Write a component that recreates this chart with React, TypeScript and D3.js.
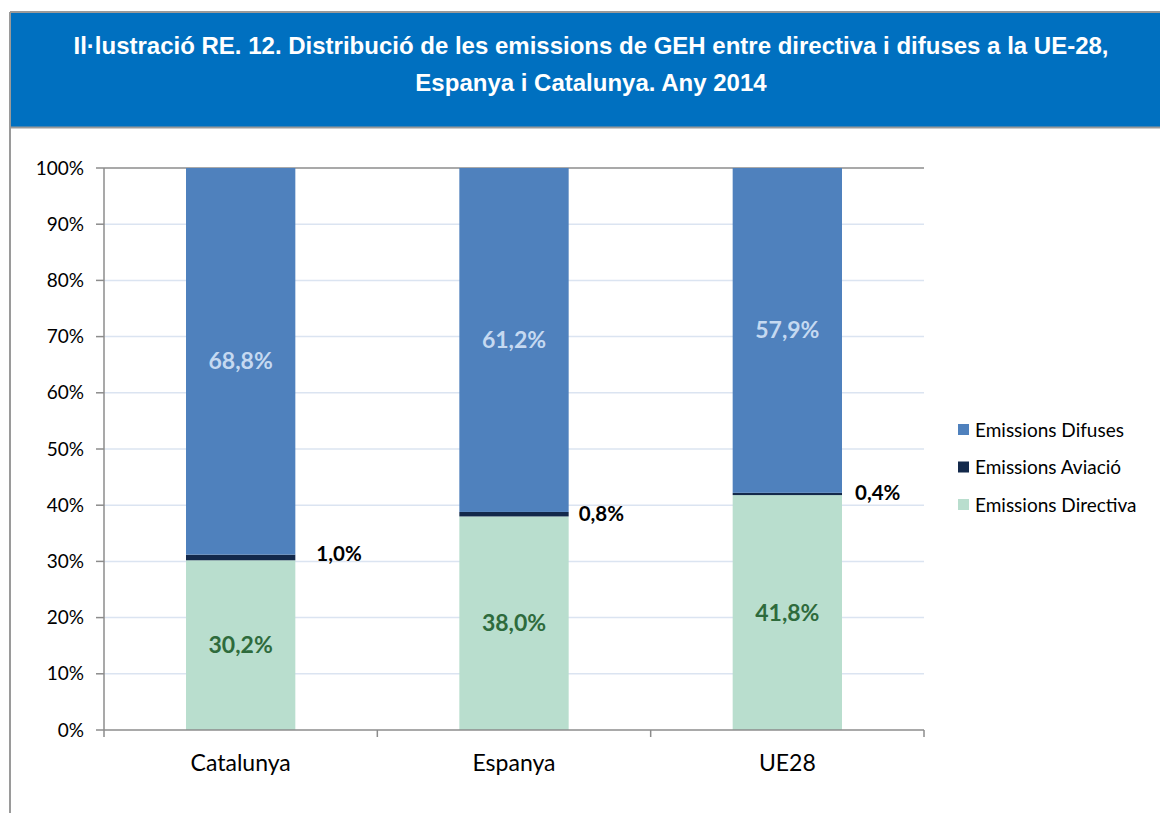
import * as d3 from "d3";

const categories = ["Catalunya", "Espanya", "UE28"];
const directiva = [30.2, 38.0, 41.8];
const aviacio = [1.0, 0.8, 0.4];
const difuses = [68.8, 61.2, 57.9];
const yTicks = [0, 10, 20, 30, 40, 50, 60, 70, 80, 90, 100];

const seriesNames = ["Emissions Directiva", "Emissions Aviació", "Emissions Difuses"];
const colors = ["#b9dece", "#13294b", "#4f81bd"];
const labelColors = ["#2e6b3c", "#000000", "#c5d9f1"];

// side label nudges for the small aviation values
const sideDx = [21, 10, 13];
const sideDy = [-4, 0, -1];

const fmt = (v: number) => v.toFixed(1).replace(".", ",") + "%";

function App() {
  const width = 1160;
  const height = 813;
  const left = 104, right = 924, top = 168, bottom = 730;

  const x = d3.scaleBand().domain(categories).range([left, right]).paddingInner(0.6).paddingOuter(0.3);
  const y = d3.scaleLinear().domain([0, 100]).range([bottom, top]).clamp(true);

  const rows = categories.map((c, i) => ({ cat: c, s0: directiva[i], s1: aviacio[i], s2: difuses[i] }));
  const stacked = d3.stack<any>().keys(["s0", "s1", "s2"])(rows);

  const catStep = (right - left) / categories.length;
  const catEdges = d3.range(categories.length + 1).map((i) => left + i * catStep);

  const font = "Lato, sans-serif";
  const titleFont = "Liberation Sans";

  return (
    <svg width={width} height={height} style={{ position: "absolute", left: 0, top: 0, background: "#fff" }}>
      <rect x={10} y={12} width={width} height={115} fill="#0070c0" />
      <line x1={10} x2={width} y1={12} y2={12} stroke="#9a9a9a" strokeWidth={2} />
      <line x1={10} x2={width} y1={127.5} y2={127.5} stroke="#9a9a9a" strokeWidth={2} />
      <line x1={10} x2={10} y1={12} y2={height} stroke="#9a9a9a" strokeWidth={2} />
      <text x={591} y={54} textAnchor="middle" fill="#fff" fontFamily={titleFont} fontWeight="bold" fontSize={24}>
        Il·lustració RE. 12. Distribució de les emissions de GEH entre directiva i difuses a la UE-28,
      </text>
      <text x={591} y={91} textAnchor="middle" fill="#fff" fontFamily={titleFont} fontWeight="bold" fontSize={24}>
        Espanya i Catalunya. Any 2014
      </text>

      {yTicks.map((t) => (
        <g key={t}>
          <line x1={left} x2={right} y1={y(t)} y2={y(t)} stroke={t === 100 ? "#8c8c8c" : t === 0 ? "none" : "#dbe4f1"} strokeWidth={1.5} />
          <line x1={left - 8} x2={left} y1={y(t)} y2={y(t)} stroke="#8c8c8c" strokeWidth={1.5} />
          <text x={84} y={y(t)} dy="0.35em" textAnchor="end" fontFamily={font} fontSize={19} fill="#000">{t}%</text>
        </g>
      ))}

      {stacked.map((s, si) => (
        <g key={si}>
          {s.map((d, i) => (
            <rect key={i} x={x(categories[i])} width={x.bandwidth()} y={y(d[1])} height={y(d[0]) - y(d[1])} fill={colors[si]} />
          ))}
        </g>
      ))}

      <line x1={left} x2={left} y1={top} y2={bottom} stroke="#8c8c8c" strokeWidth={1.5} />
      <line x1={left} x2={right} y1={bottom} y2={bottom} stroke="#8c8c8c" strokeWidth={1.5} />
      {catEdges.map((e, i) => (
        <line key={i} x1={e} x2={e} y1={bottom} y2={bottom + 7} stroke="#8c8c8c" strokeWidth={1.5} />
      ))}
      {categories.map((c) => (
        <text key={c} x={(x(c) ?? 0) + x.bandwidth() / 2} y={763} dy="0.35em" textAnchor="middle" fontFamily={font} fontSize={23} fill="#000">{c}</text>
      ))}

      {stacked.map((s, si) =>
        s.map((d, i) => {
          const v = [directiva, aviacio, difuses][si][i];
          const cy = y((d[0] + Math.min(d[1], 100)) / 2);
          const bx = x(categories[i]) ?? 0;
          const isSide = si === 1;
          return (
            <text key={`${si}-${i}`} x={isSide ? bx + x.bandwidth() + sideDx[i] : bx + x.bandwidth() / 2} y={isSide ? cy + sideDy[i] : cy} dy="0.35em"
              textAnchor={isSide ? "start" : "middle"} fontFamily={font} fontWeight="bold" fontSize={isSide ? 20.5 : 23} fill={labelColors[si]}>
              {fmt(v)}
            </text>
          );
        })
      )}

      {[2, 1, 0].map((si, k) => (
        <g key={si} transform={`translate(958, ${430 + k * 37.5})`}>
          <rect x={0} y={-6} width={11} height={11} fill={colors[si]} />
          <text x={17} y={0} dy="0.35em" fontFamily={font} fontSize={19} fill="#000">{seriesNames[si]}</text>
        </g>
      ))}
    </svg>
  );
}

export default App;
